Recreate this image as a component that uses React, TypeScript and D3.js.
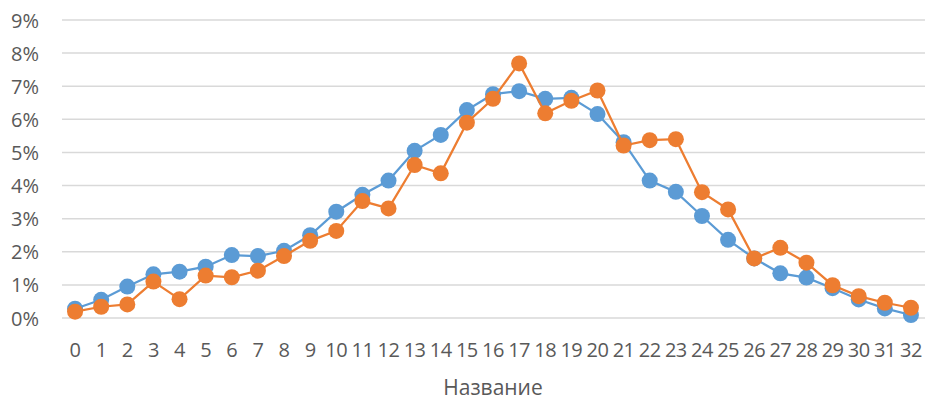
import React from "react";
import * as d3 from "d3";

const categories: string[] = Array.from({ length: 33 }, (_, i) => String(i));
const seriesBlue: number[] = [
  0.28, 0.55, 0.95, 1.32, 1.4, 1.55, 1.9, 1.87, 2.03, 2.5, 3.21, 3.72, 4.15, 5.05, 5.53, 6.28, 6.76,
  6.85, 6.62, 6.65, 6.16, 5.31, 4.15, 3.81, 3.08, 2.36, 1.8, 1.35, 1.22, 0.9, 0.56, 0.29, 0.09,
];
const seriesOrange: number[] = [
  0.19, 0.34, 0.41, 1.1, 0.57, 1.28, 1.23, 1.43, 1.87, 2.33, 2.63, 3.53, 3.31, 4.62, 4.37, 5.9, 6.62,
  7.69, 6.18, 6.56, 6.87, 5.21, 5.37, 5.4, 3.8, 3.28, 1.8, 2.12, 1.67, 0.99, 0.66, 0.46, 0.31,
];
const yTicks: number[] = [0, 1, 2, 3, 4, 5, 6, 7, 8, 9];
const xTitle = "Название";

const W = 926;
const H = 403;
const left = 62;
const right = 924;
const top = 20;
const bottom = 318;

export default function App() {
  const x = d3.scaleBand<string>().domain(categories).range([left, right]);
  const y = d3.scaleLinear().domain([0, 9]).range([bottom, top]);
  const cx = (i: number) => (x(categories[i]) as number) + x.bandwidth() / 2;
  const line = d3
    .line<number>()
    .x((_, i) => cx(i))
    .y((d) => y(d));
  const font = "'Open Sans', sans-serif";
  const series = [
    { data: seriesBlue, color: "#5B9BD5" },
    { data: seriesOrange, color: "#ED7D31" },
  ];
  return (
    <svg
      width={W}
      height={H}
      style={{ position: "absolute", left: 0, top: 0, background: "#fff" }}
    >
      {yTicks.map((t) => (
        <g key={t}>
          <line x1={left} x2={right + 1} y1={y(t)} y2={y(t)} stroke="#D9D9D9" strokeWidth={1.5} />
          <text
            x={39}
            y={y(t)}
            textAnchor="end"
            dominantBaseline="central"
            fontFamily={font}
            fontSize={20}
            fill="#595959"
          >
            {t + "%"}
          </text>
        </g>
      ))}
      {categories.map((c, i) => (
        <text
          key={c}
          x={cx(i)}
          y={357}
          textAnchor="middle"
          fontFamily={font}
          fontSize={20}
          fill="#595959"
          letterSpacing={-0.5}
        >
          {c}
        </text>
      ))}
      <text
        x={(left + right) / 2}
        y={395}
        textAnchor="middle"
        fontFamily={font}
        fontSize={21}
        fill="#595959"
      >
        {xTitle}
      </text>
      {series.map((s, si) => (
        <g key={si}>
          <path d={line(s.data) || ""} fill="none" stroke={s.color} strokeWidth={2.25} />
          {s.data.map((v, i) => (
            <circle key={i} cx={cx(i)} cy={y(v)} r={8} fill={s.color} />
          ))}
        </g>
      ))}
    </svg>
  );
}
